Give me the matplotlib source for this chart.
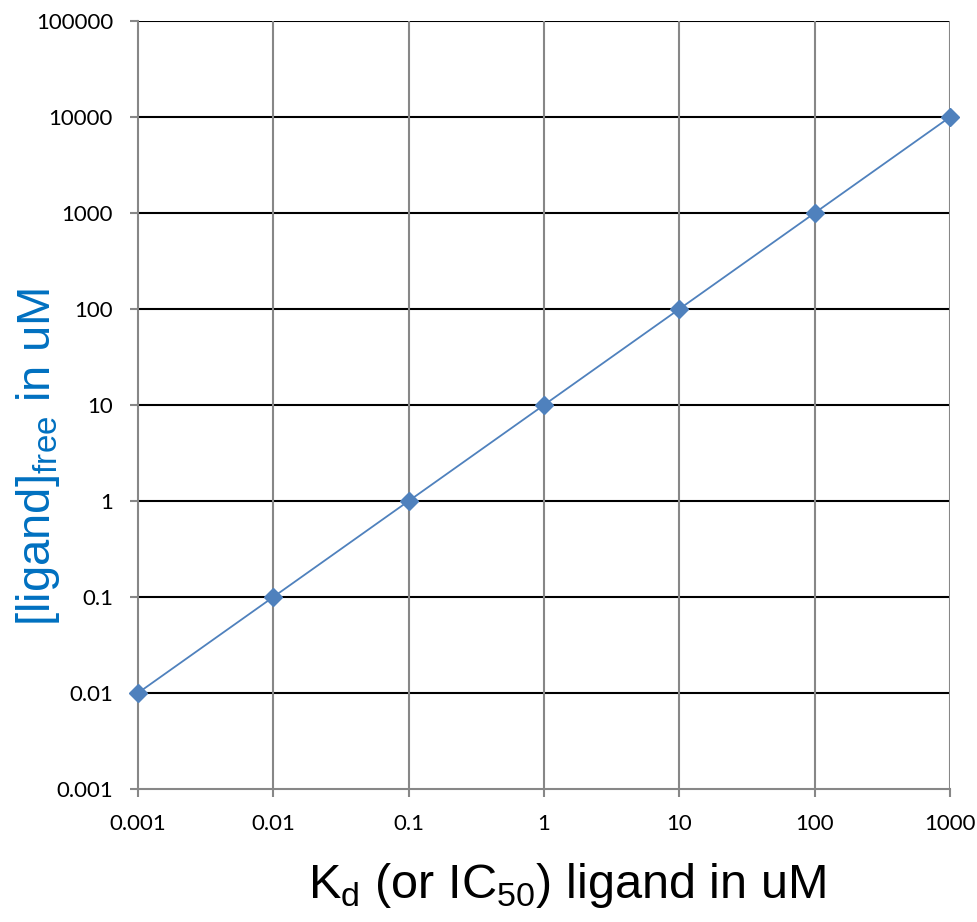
import matplotlib
matplotlib.use("Agg")
import matplotlib.pyplot as plt

# Kd (or IC50) of the ligand vs free ligand concentration, both in uM
kd_um = [0.001, 0.01, 0.1, 1, 10, 100, 1000]
free_um = [0.01, 0.1, 1, 10, 100, 1000, 10000]

x_ticks = [0.001, 0.01, 0.1, 1, 10, 100, 1000]
x_tick_labels = ["0.001", "0.01", "0.1", "1", "10", "100", "1000"]
y_ticks = [0.001, 0.01, 0.1, 1, 10, 100, 1000, 10000, 100000]
y_tick_labels = ["0.001", "0.01", "0.1", "1", "10", "100", "1000", "10000", "100000"]

plt.rcParams["mathtext.fontset"] = "custom"
plt.rcParams["mathtext.rm"] = "Liberation Sans"

fig = plt.figure(figsize=(9.78, 9.22), dpi=100)
ax = fig.add_axes([0.1411, 0.1443, 0.8303, 0.8329])

ax.set_xscale("log")
ax.set_yscale("log")
ax.set_xlim(0.001, 1000)
ax.set_ylim(0.001, 100000)

ax.set_xticks(x_ticks)
ax.set_xticklabels(x_tick_labels)
ax.set_yticks(y_ticks)
ax.set_yticklabels(y_tick_labels)
ax.minorticks_off()

grid_grey = "#878787"
for t in y_ticks[1:]:
    ax.axhline(t, color="black", lw=1.5, zorder=1)
for t in x_ticks[1:]:
    ax.axvline(t, color=grid_grey, lw=1.5, zorder=1)

for side in ("top", "right"):
    ax.spines[side].set_visible(False)
for side in ("left", "bottom"):
    ax.spines[side].set_color(grid_grey)
    ax.spines[side].set_linewidth(1.5)

ax.tick_params(axis="both", which="major", length=6, width=1.5, color=grid_grey,
               labelsize=16, pad=12)
for lbl in ax.get_xticklabels() + ax.get_yticklabels():
    lbl.set_fontfamily("Lato")

ax.plot(kd_um, free_um, color="#4F81BD", lw=1.3, marker="D", markersize=9,
        markeredgecolor="#4F81BD", markerfacecolor="#4F81BD", zorder=3, clip_on=False)

fig.text(567 / 978, 1 - 885 / 922,
         r"K$_\mathregular{d}$ (or IC$_\mathregular{50}$) ligand in uM",
         fontsize=35, family="Liberation Sans", ha="center", va="center")
fig.text(38 / 978, 1 - 457 / 922, r"[ligand]$_\mathregular{free}$ in uM",
         fontsize=34, family="Liberation Sans", color="#0070C0",
         rotation=90, ha="center", va="center")

fig.savefig("out.png", dpi=100, facecolor="white")
